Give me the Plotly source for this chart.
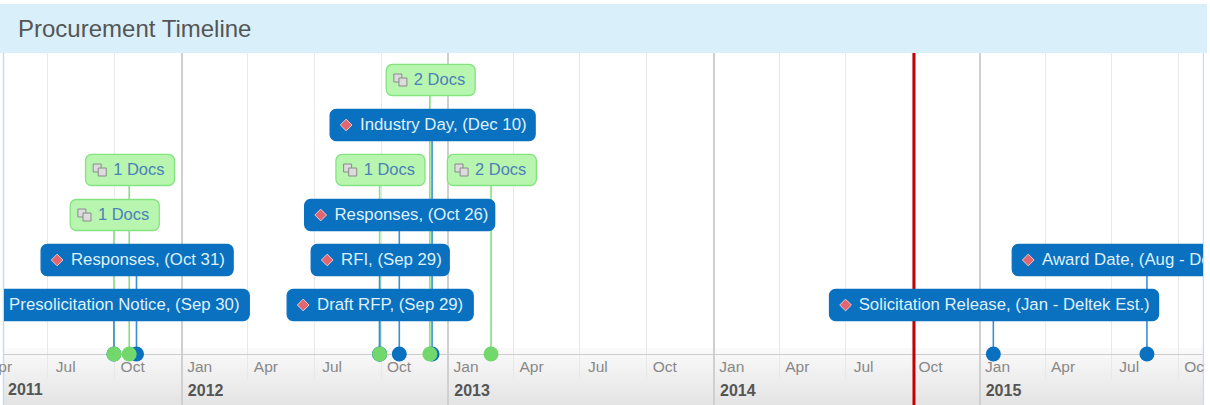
from datetime import date, timedelta
import plotly.graph_objects as go

# ---------- data ----------
milestone_labels = ["Presolicitation Notice, (Sep 30)", "Responses, (Oct 31)", "Draft RFP, (Sep 29)",
                    "RFI, (Sep 29)", "Responses, (Oct 26)", "Industry Day, (Dec 10)",
                    "Solicitation Release, (Jan - Deltek Est.)", "Award Date, (Aug - Deltek Est.)"]
milestone_dates = ["2011-09-30", "2011-10-31", "2012-09-29", "2012-09-29", "2012-10-26", "2012-12-10",
                   "2015-01-20", "2015-08-19"]
milestone_lanes = [1, 2, 1, 2, 3, 5, 1, 2]
doc_labels = ["1 Docs", "1 Docs", "1 Docs", "2 Docs", "2 Docs"]
doc_dates = ["2011-09-30", "2011-10-21", "2012-09-29", "2012-12-07", "2013-03-01"]
doc_lanes = [3, 4, 4, 6, 4]
today_date = "2014-10-03"
year_labels_edge = ["2011"]
month_label_edge = ["Apr"]
month_label_edge_dates = ["2011-04-01"]

# ---------- geometry / style ----------
W, H = 1210, 405
PL, PR, PT, PB = 4, 1203, 53, 354
LANE_PX = 45
X0, X1 = date(2011, 5, 2), date(2015, 11, 4)
PX_PER_DAY = (PR - PL) / (X1 - X0).days
Y_MIN = -49 / LANE_PX + 1
Y_MAX = Y_MIN + (PB - PT) / LANE_PX
MS_PER_DAY = 86400000
BLUE, BLUE_STEM = "#0a70c0", "#3a8fd8"
GREEN, GREEN_FILL, GREEN_STEM = "#83e37e", "#b8f6b0", "#85e080"
DOT_GREEN = "#72d86c"
TODAY_RED = "#c40000"
FONT = "Liberation Sans, Arial, sans-serif"
MILESTONE_BOX_PX = [270, 192, 186, 138, 190, 205, 329, 270]
DOC_BOX_PX = 89
BOX_NUDGE = 1
TEXT_DY = -1.2 / LANE_PX


def d(s):
    return date.fromisoformat(s)


def shifted(dt, px):
    return (dt + timedelta(days=(px + BOX_NUDGE) / PX_PER_DAY)).isoformat()


def px_y(px):
    return (PB - px) / (PB - PT)


def px_x(px):
    return (px - PL) / (PR - PL)


fig = go.Figure()

# current-date line, beneath everything in the plot area
fig.add_trace(go.Scatter(x=[today_date, today_date], y=[Y_MIN, Y_MAX], mode="lines",
                         line=dict(color=TODAY_RED, width=3)))


def stems(dates, lanes, color):
    xs, ys = [], []
    for a, b in zip(dates, lanes):
        xs += [a, a, None]
        ys += [Y_MIN, b, None]
    fig.add_trace(go.Scatter(x=xs, y=ys, mode="lines", line=dict(color=color, width=1.6)))


stems(doc_dates, doc_lanes, GREEN_STEM)
stems(milestone_dates, milestone_lanes, BLUE_STEM)


def boxes(dates, lanes, widths, fill, line):
    fig.add_trace(go.Bar(
        orientation="h", xaxis="x2",
        base=[shifted(d(a), -w / 2) for a, w in zip(dates, widths)],
        x=[w / PX_PER_DAY * MS_PER_DAY for w in widths],
        y=lanes, width=0.69,
        marker=dict(color=fill, cornerradius=6, line=dict(color=line, width=1.3)),
    ))


boxes(milestone_dates, milestone_lanes, MILESTONE_BOX_PX, BLUE, BLUE)
boxes(doc_dates, doc_lanes, [DOC_BOX_PX] * len(doc_dates), GREEN_FILL, GREEN)

# diamonds inside the milestone boxes
fig.add_trace(go.Scatter(
    x=[shifted(d(a), -w / 2 + 16) for a, w in zip(milestone_dates, MILESTONE_BOX_PX)],
    y=milestone_lanes, mode="markers", xaxis="x2",
    marker=dict(symbol="diamond", size=9, color="#e2656f", line=dict(color="#f3c8cc", width=1)),
))
fig.add_trace(go.Scatter(
    x=[shifted(d(a), -w / 2 + 29.5) for a, w in zip(milestone_dates, MILESTONE_BOX_PX)],
    y=[l + TEXT_DY for l in milestone_lanes], mode="text", text=milestone_labels,
    textposition="middle right", xaxis="x2",
    textfont=dict(family=FONT, size=16.8, color="#dff0fb"),
))

# copy icon in the document boxes
for dx, dy in ((-DOC_BOX_PX / 2 + 12, 2), (-DOC_BOX_PX / 2 + 17, -2)):
    fig.add_trace(go.Scatter(
        x=[shifted(d(a), dx) for a in doc_dates],
        y=[l + dy / LANE_PX for l in doc_lanes], mode="markers", xaxis="x2",
        marker=dict(symbol="square", size=8, color="#dcdcdc", line=dict(color="#8a8a8a", width=1)),
    ))
fig.add_trace(go.Scatter(
    x=[shifted(d(a), -DOC_BOX_PX / 2 + 28) for a in doc_dates],
    y=[l + TEXT_DY for l in doc_lanes], mode="text", text=doc_labels,
    textposition="middle right", xaxis="x2",
    textfont=dict(family=FONT, size=16.5, color="#4c80b8"),
))

# dots on the axis
fig.add_trace(go.Scatter(
    x=milestone_dates, y=[Y_MIN] * len(milestone_dates), mode="markers", xaxis="x2", cliponaxis=False,
    marker=dict(size=15, color=BLUE),
))
fig.add_trace(go.Scatter(
    x=doc_dates, y=[Y_MIN] * len(doc_dates), mode="markers", xaxis="x2", cliponaxis=False,
    marker=dict(size=15, color=DOT_GREEN),
))

shapes = []
# title band
shapes.append(dict(type="rect", xref="paper", yref="paper", x0=px_x(0), x1=px_x(1207), y0=px_y(53), y1=px_y(4),
                   fillcolor="#d9f0fb", line_width=0, layer="below"))
# gradient axis band (each strip runs to the bottom, so no seams show)
STRIPS = 19
for i in range(STRIPS):
    top = 348 + 3 * i
    shade = 250 - round(22 * i / (STRIPS - 1))
    shapes.append(dict(type="rect", xref="paper", yref="paper", x0=px_x(PL), x1=px_x(PR),
                       y0=px_y(405), y1=px_y(top), fillcolor=f"rgb({shade},{shade},{shade})",
                       line_width=0, layer="below"))
# frame edges
for px in (3.5, 1203.5):
    shapes.append(dict(type="line", xref="paper", yref="paper", x0=px_x(px), x1=px_x(px),
                       y0=px_y(405), y1=px_y(53), line=dict(color="#c9dcef", width=1.5), layer="below"))
# current-date line through the axis band
shapes.append(dict(type="line", xref="x", yref="paper", x0=today_date, x1=today_date,
                   y0=px_y(405), y1=0, line=dict(color=TODAY_RED, width=3), layer="above"))
# mask of the page edge, over the clipped tick label
shapes.append(dict(type="rect", xref="paper", yref="paper", x0=px_x(1204.3), x1=px_x(1210),
                   y0=px_y(405), y1=px_y(53), fillcolor="white", line_width=0, layer="above"))

annotations = []
for lab, dt in zip(month_label_edge, month_label_edge_dates):
    annotations.append(dict(text=lab, xref="paper", yref="paper", showarrow=False, xanchor="left", yanchor="middle",
                            x=(d(dt) - X0).days / (X1 - X0).days, xshift=5, y=px_y(366),
                            font=dict(family=FONT, size=15.5, color="#888888")))
for lab in year_labels_edge:
    annotations.append(dict(text=lab, xref="paper", yref="paper", showarrow=False, xanchor="left", yanchor="middle",
                            x=px_x(8), y=px_y(390), xshift=-2,
                            font=dict(family=FONT, size=16, color="#555555", weight="bold")))

common = dict(range=[X0.isoformat(), X1.isoformat()], type="date", tick0="2011-01-01", zeroline=False,
              ticklabeloverflow="allow", fixedrange=True, ticks="outside", automargin=False,
              layer="below traces")
fig.update_layout(
    width=W, height=H, autosize=False,
    margin=dict(l=PL, r=W - PR, t=PT, b=H - PB, pad=0),
    paper_bgcolor="white", plot_bgcolor="rgba(0,0,0,0)",
    showlegend=False, hovermode=False, barmode="overlay",
    title=dict(text="Procurement Timeline", x=18 / W, xanchor="left", xref="container",
               y=1 - 29 / H, yref="container", yanchor="middle",
               font=dict(family=FONT, size=24, color="#555555")),
    xaxis=dict(common, dtick="M3", tickformat="%b", showgrid=True, gridcolor="#e8e8e8", gridwidth=1.3,
               ticklen=24, tickcolor="#e8e8e8", tickwidth=1.3, showline=True, linecolor="#cccccc", linewidth=1,
               ticklabelshift=18, ticklabelstandoff=-26,
               tickfont=dict(family=FONT, size=15.5, color="#888888")),
    xaxis2=dict(common, dtick="M12", tickformat="%Y", overlaying="x", matches="x", anchor="y", side="bottom",
                showgrid=True, gridcolor="#d0d0d0", gridwidth=1.5, ticklen=51, tickcolor="#d0d0d0", tickwidth=1.5,
                ticklabelshift=24, ticklabelstandoff=-29,
                tickfont=dict(family=FONT, size=16, color="#555555", weight="bold")),
    yaxis=dict(range=[Y_MIN, Y_MAX], visible=False, fixedrange=True, automargin=False),
    shapes=shapes, annotations=annotations,
)

fig.write_html("out.html", config=dict(displayModeBar=False),
               post_script="document.body.style.margin='0';window.dispatchEvent(new Event('resize'));")
